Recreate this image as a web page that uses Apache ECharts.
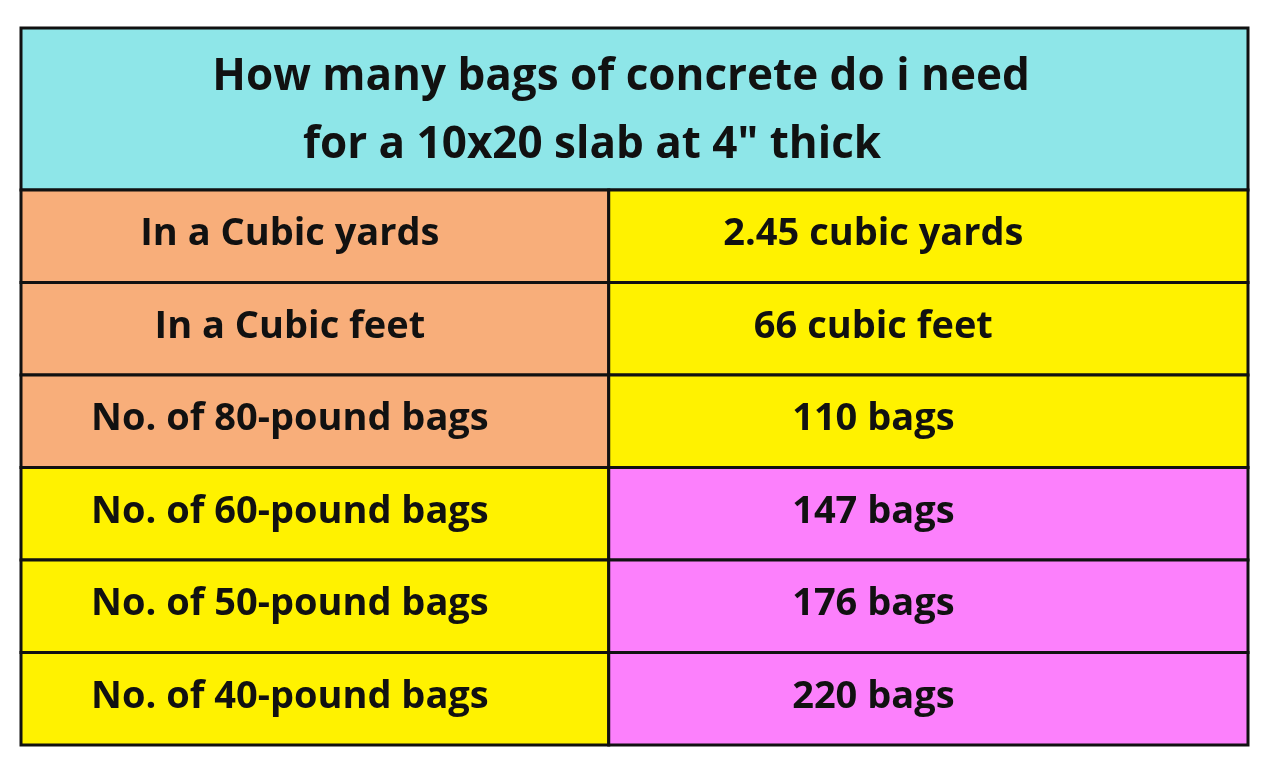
<!DOCTYPE html>
<html><head><meta charset="utf-8">
<script src="https://cdn.jsdelivr.net/npm/echarts@6/dist/echarts.min.js"></script>
<style>html,body{margin:0;padding:0;background:#fff}#c{width:1280px;height:768px}</style>
</head><body><div id="c"></div>
<script>
const titleLines = ['How many bags of concrete do i need', 'for a 10x20 slab at 4" thick'];
const labels = ['In a Cubic yards','In a Cubic feet','No. of 80-pound bags','No. of 60-pound bags','No. of 50-pound bags','No. of 40-pound bags'];
const values = ['2.45 cubic yards','66 cubic feet','110 bags','147 bags','176 bags','220 bags'];
const labelColors = ['#f8ae7a','#f8ae7a','#f8ae7a','#fff200','#fff200','#fff200'];
const valueColors = ['#fff200','#fff200','#fff200','#fc80fc','#fc80fc','#fc80fc'];

const data = [];
labels.forEach((l,i)=>{ data.push([0,i,l,labelColors[i]]); data.push([1,i,values[i],valueColors[i]]); });

const SPLIT = 0.479;
const chart = echarts.init(document.getElementById('c'));
chart.setOption({
  backgroundColor:'#fff',
  grid:{left:21,right:32,top:190,bottom:23},
  xAxis:{type:'value',min:0,max:1,show:false},
  yAxis:{type:'category',data:labels,inverse:true,show:false},
  graphic:[
    {type:'rect',shape:{x:21,y:28,width:1227,height:162},style:{fill:'#8ee6e8',stroke:'#111',lineWidth:3}},
    {type:'text',style:{x:621,y:77,text:titleLines[0],align:'center',verticalAlign:'middle',font:'bold 44px "Open Sans", sans-serif',fill:'#111'}},
    {type:'text',style:{x:592,y:145,text:titleLines[1],align:'center',verticalAlign:'middle',font:'bold 44px "Open Sans", sans-serif',fill:'#111'}}
  ],
  series:[{
    type:'custom',
    data:data,
    renderItem:function(params,api){
      const d = data[params.dataIndex];
      const x0 = d[0]===0 ? 0 : SPLIT, x1 = d[0]===0 ? SPLIT : 1;
      const a = api.coord([x0,api.value(1)]);
      const b = api.coord([x1,api.value(1)]);
      const h = api.size([0,1])[1];
      const y = a[1]-h/2;
      const cx = (a[0]+b[0])/2 + (d[0]===0?-25:-55);
      return {type:'group',children:[
        {type:'rect',shape:{x:a[0],y:y,width:b[0]-a[0],height:h},style:{fill:d[3],stroke:'#111',lineWidth:3}},
        {type:'text',style:{x:cx,y:a[1]-2,text:d[2],align:'center',verticalAlign:'middle',font:'bold 38px "Open Sans", sans-serif',fill:'#111'}}
      ]};
    }
  }]
});
</script></body></html>
